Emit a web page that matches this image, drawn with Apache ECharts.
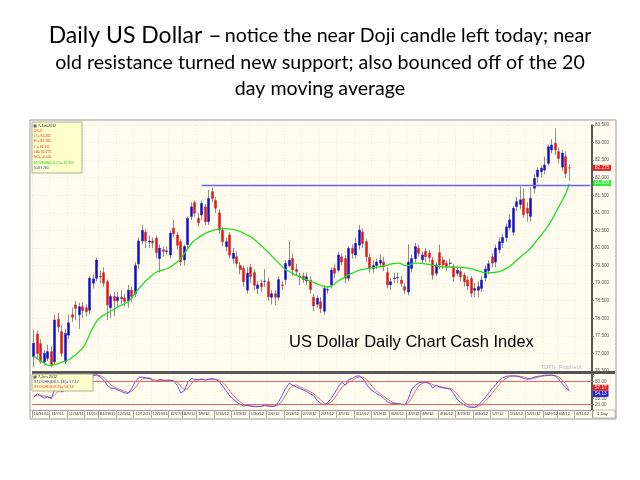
<!DOCTYPE html>
<html>
<head>
<meta charset="utf-8">
<script src="https://cdn.jsdelivr.net/npm/echarts@6/dist/echarts.min.js"></script>
<style>
  html, body { margin: 0; background: #fff; }
  #chart { width: 640px; height: 480px; }
</style>
</head>
<body>
<div id="chart"></div>
<script>
// trading days 10/31/11 .. 6/7/12 (exchange holidays skipped), plus a few empty days on the right
const holidays = ['2011-11-24', '2011-12-26', '2012-01-02', '2012-04-06', '2012-05-28'];
const dates = [];
for (let d = new Date(Date.UTC(2011, 9, 31)); d <= new Date(Date.UTC(2012, 5, 15)); d.setUTCDate(d.getUTCDate() + 1)) {
  const wd = d.getUTCDay();
  if (wd === 0 || wd === 6) continue;
  if (holidays.includes(d.toISOString().slice(0, 10))) continue;
  dates.push({ label: (d.getUTCMonth() + 1) + '/' + d.getUTCDate() + '/' + String(d.getUTCFullYear()).slice(2), wd: wd });
}
const labels = dates.map(d => d.label);

// daily OHLC
const opens = [
  76.91, 77.55, 77.28, 76.76, 76.86, 77.05, 76.76, 77.97, 77.62, 76.76,
  77.52, 78.10, 78.38, 78.10, 78.33, 78.30, 78.23, 79.00, 79.14, 79.20,
  79.30, 79.04, 78.30, 78.62, 78.50, 78.60, 78.58, 78.50, 78.80, 78.70,
  79.55, 80.20, 80.45, 80.18, 80.20, 80.28, 79.70, 79.95, 79.90, 79.80,
  80.56, 80.37, 80.18, 79.66, 80.10, 80.90, 81.29, 80.84, 80.94, 81.17,
  80.75, 81.60, 81.35, 81.00, 80.51, 80.04, 80.37, 79.70, 79.75, 79.50,
  79.42, 78.80, 79.45, 79.30, 78.85, 78.99, 79.05, 79.04, 78.60, 78.70,
  78.60, 78.95, 79.10, 79.50, 79.70, 79.39, 79.20, 79.20, 79.07, 79.08,
  78.60, 78.40, 78.47, 78.20, 78.80, 78.95, 79.42, 79.37, 79.75, 79.70,
  79.14, 79.99, 79.80, 80.08, 80.46, 80.18, 79.73, 79.42, 79.50, 79.57,
  79.60, 79.30, 78.95, 79.13, 79.15, 79.09, 78.90, 78.75, 79.42, 79.70,
  79.99, 79.66, 79.90, 79.86, 79.66, 79.28, 79.87, 79.66, 79.56, 79.56,
  79.47, 79.28, 79.33, 79.23, 79.09, 79.13, 78.80, 78.80, 78.85, 79.15,
  79.35, 79.75, 79.60, 79.95, 80.15, 80.30, 80.58, 80.45, 81.18, 81.24,
  81.40, 81.13, 80.90, 81.70, 82.03, 82.17, 82.22, 82.41, 82.79, 82.98,
  82.74, 82.30, 82.60, 82.282
];
const highs = [
  77.67, 77.65, 77.40, 77.10, 77.25, 77.20, 78.10, 78.15, 77.80, 77.70,
  78.10, 78.30, 78.50, 78.45, 78.45, 78.40, 79.20, 79.25, 79.72, 79.35,
  79.45, 79.10, 78.70, 78.75, 78.75, 78.80, 78.70, 78.95, 78.90, 79.60,
  80.30, 80.65, 80.55, 80.35, 80.30, 80.35, 80.10, 80.05, 80.05, 80.50,
  80.80, 80.45, 80.25, 80.10, 80.90, 81.30, 81.35, 81.00, 81.35, 81.25,
  81.65, 81.72, 81.45, 81.10, 80.60, 80.30, 80.45, 80.00, 79.90, 79.60,
  79.50, 79.45, 79.55, 79.40, 79.05, 79.10, 79.40, 79.15, 78.80, 78.80,
  79.20, 79.05, 79.65, 80.20, 79.85, 79.55, 79.30, 79.30, 79.30, 79.20,
  78.70, 78.65, 78.60, 78.95, 78.90, 79.45, 79.55, 79.90, 79.85, 79.80,
  80.05, 80.10, 80.30, 80.65, 80.55, 80.25, 79.85, 79.65, 79.70, 79.80,
  79.75, 79.45, 79.15, 79.30, 79.30, 79.20, 79.00, 80.10, 79.80, 80.15,
  80.10, 79.90, 80.00, 79.95, 79.75, 79.60, 80.10, 79.75, 79.65, 79.70,
  79.55, 79.50, 79.45, 79.30, 79.20, 79.20, 79.00, 79.05, 79.20, 79.50,
  79.65, 79.85, 80.10, 80.30, 80.40, 80.70, 80.95, 81.20, 81.45, 81.75,
  81.70, 81.30, 81.72, 82.10, 82.30, 82.35, 82.60, 82.95, 83.10, 83.41,
  82.85, 82.80, 82.75, 82.382
];
const lows = [
  76.62, 76.85, 76.70, 76.65, 76.78, 76.60, 76.70, 77.60, 76.90, 76.70,
  77.40, 77.90, 77.95, 77.70, 78.00, 78.05, 78.10, 78.85, 79.05, 79.00,
  78.90, 77.95, 78.00, 78.05, 78.30, 78.40, 78.35, 78.30, 78.45, 78.60,
  79.40, 80.10, 80.00, 80.00, 80.00, 79.70, 79.30, 79.75, 79.80, 79.70,
  80.30, 79.95, 79.50, 79.50, 80.00, 80.80, 80.90, 80.60, 80.80, 80.65,
  80.65, 81.30, 81.00, 80.40, 80.05, 79.90, 79.70, 79.55, 79.45, 79.25,
  78.90, 78.70, 79.00, 78.80, 78.70, 78.75, 78.90, 78.50, 78.40, 78.38,
  78.50, 78.80, 78.95, 79.45, 79.20, 79.20, 78.94, 79.00, 78.95, 78.70,
  78.20, 78.30, 78.15, 78.10, 78.70, 78.85, 79.15, 79.30, 79.50, 79.00,
  79.05, 79.70, 79.70, 79.95, 80.00, 79.60, 79.30, 79.30, 79.40, 79.45,
  79.35, 78.85, 78.80, 79.00, 79.00, 78.90, 78.70, 78.65, 79.30, 79.60,
  79.75, 79.55, 79.60, 79.60, 79.10, 79.20, 79.40, 79.40, 79.35, 79.45,
  79.05, 79.20, 79.05, 78.90, 78.80, 78.60, 78.60, 78.60, 78.75, 79.05,
  79.25, 79.45, 79.45, 79.85, 80.00, 80.20, 80.50, 80.35, 81.05, 81.10,
  80.85, 80.75, 80.75, 81.55, 81.85, 82.00, 82.10, 82.35, 82.70, 82.65,
  82.40, 82.20, 82.00, 81.911
];
const closes = [
  77.29, 77.00, 76.76, 77.00, 77.05, 76.67, 77.95, 77.76, 77.00, 77.57,
  77.87, 78.03, 78.28, 78.33, 78.22, 78.19, 79.14, 79.12, 79.66, 79.18,
  79.00, 78.38, 78.62, 78.50, 78.60, 78.55, 78.48, 78.80, 78.62, 79.50,
  80.20, 80.50, 80.20, 80.20, 80.15, 79.87, 80.00, 79.90, 79.92, 80.42,
  80.40, 80.08, 79.61, 80.04, 80.84, 81.17, 80.99, 80.72, 81.27, 80.75,
  81.41, 81.41, 81.13, 80.51, 80.18, 80.18, 79.80, 79.85, 79.56, 79.38,
  79.04, 79.28, 79.19, 78.94, 78.95, 78.90, 79.06, 78.61, 78.70, 78.60,
  79.10, 78.93, 79.56, 79.65, 79.38, 79.33, 79.18, 79.10, 79.18, 78.82,
  78.35, 78.57, 78.28, 78.85, 78.82, 79.37, 79.28, 79.80, 79.60, 79.14,
  79.99, 79.85, 80.13, 80.51, 80.13, 79.75, 79.42, 79.50, 79.60, 79.65,
  79.47, 78.95, 79.04, 79.14, 79.16, 78.99, 78.80, 79.60, 79.70, 80.04,
  79.85, 79.80, 79.75, 79.73, 79.23, 79.52, 79.52, 79.52, 79.47, 79.57,
  79.18, 79.37, 79.18, 79.04, 78.92, 78.71, 78.85, 78.90, 79.09, 79.40,
  79.55, 79.57, 80.00, 80.18, 80.30, 80.60, 80.80, 81.13, 81.32, 81.37,
  80.95, 80.99, 81.41, 81.98, 82.22, 82.27, 82.36, 82.88, 82.93, 82.79,
  82.55, 82.70, 82.12, 82.275
];

// 20 day moving average (green)
const ma20 = [
  76.92, 76.85, 76.78, 76.72, 76.67, 76.66, 76.68, 76.71, 76.75, 76.78,
  76.82, 76.89, 76.97, 77.06, 77.15, 77.32, 77.55, 77.75, 77.92, 78.02,
  78.09, 78.15, 78.20, 78.26, 78.32, 78.37, 78.42, 78.48, 78.58, 78.72,
  78.84, 78.95, 79.06, 79.15, 79.24, 79.31, 79.35, 79.38, 79.41, 79.46,
  79.53, 79.60, 79.70, 79.84, 79.98, 80.12, 80.22, 80.29, 80.36, 80.41,
  80.46, 80.49, 80.52, 80.54, 80.55, 80.55, 80.54, 80.53, 80.50, 80.47,
  80.42, 80.37, 80.32, 80.24, 80.16, 80.07, 79.97, 79.88, 79.77, 79.67,
  79.57, 79.47, 79.38, 79.33, 79.27, 79.22, 79.18, 79.13, 79.10, 79.06,
  79.02, 78.98, 78.94, 78.90, 78.89, 78.92, 78.98, 79.06, 79.12, 79.18,
  79.24, 79.28, 79.33, 79.37, 79.39, 79.41, 79.43, 79.44, 79.45, 79.47,
  79.49, 79.51, 79.54, 79.56, 79.57, 79.55, 79.50, 79.50, 79.55, 79.57,
  79.57, 79.56, 79.55, 79.53, 79.51, 79.49, 79.47, 79.46, 79.46, 79.46,
  79.46, 79.45, 79.45, 79.44, 79.43, 79.41, 79.38, 79.35, 79.32, 79.29,
  79.29, 79.30, 79.31, 79.33, 79.37, 79.42, 79.48, 79.56, 79.65, 79.74,
  79.82, 79.90, 80.00, 80.12, 80.25, 80.37, 80.50, 80.63, 80.80, 80.98,
  81.17, 81.35, 81.55, 81.82
];

// stochastics, lower panel
const stochK = [
  38, 48, 42, 36, 40, 35, 60, 66, 52, 58,
  70, 82, 88, 90, 91, 90, 97, 97, 98, 92,
  84, 70, 63, 62, 58, 54, 50, 49, 62, 80,
  90, 92, 89, 88, 82, 80, 86, 84, 82, 84,
  81, 70, 50, 56, 78, 88, 86, 84, 87, 84,
  86, 88, 85, 80, 68, 55, 42, 34, 26, 19,
  16, 17, 15, 14, 14, 15, 18, 15, 14, 16,
  27, 45, 62, 76, 70, 66, 62, 58, 54, 48,
  42, 30, 22, 18, 24, 36, 50, 66, 78, 71,
  86, 88, 94, 95, 88, 74, 62, 54, 48, 43,
  36, 27, 23, 22, 22, 20, 18, 34, 60, 70,
  77, 78, 78, 75, 63, 70, 66, 63, 62, 60,
  48, 32, 25, 18, 13, 12, 12, 18, 27, 38,
  50, 62, 72, 84, 90, 94, 95, 95, 94, 92,
  88, 86, 88, 92, 94, 95, 97, 97, 97, 95,
  86, 74, 64, 54.13
];
const stochD = [
  42, 44, 43, 42, 40, 37, 45, 54, 59, 59,
  60, 70, 80, 87, 90, 90, 93, 95, 97, 96,
  91, 82, 72, 65, 61, 58, 54, 51, 54, 64,
  77, 87, 90, 90, 86, 83, 83, 83, 84, 83,
  82, 78, 67, 59, 61, 74, 84, 86, 86, 85,
  86, 86, 86, 84, 78, 68, 55, 44, 34, 26,
  20, 17, 16, 15, 14, 14, 16, 16, 16, 15,
  19, 29, 45, 61, 69, 71, 66, 62, 58, 53,
  48, 40, 31, 23, 21, 26, 37, 51, 65, 72,
  78, 82, 89, 92, 92, 86, 75, 64, 55, 48,
  42, 34, 28, 24, 22, 21, 20, 24, 37, 54,
  69, 75, 78, 77, 72, 69, 66, 65, 63, 62,
  57, 47, 35, 25, 19, 14, 12, 14, 19, 28,
  38, 50, 61, 73, 82, 89, 93, 95, 95, 94,
  92, 89, 87, 89, 91, 94, 95, 96, 97, 96,
  92, 84, 73, 57.17
];

// old resistance / new support level (blue line)
const supportLevel = 81.78;
const supportStart = 48;

// weekly ticks: first trading day of each week
const weekStart = new Set();
dates.forEach((d, i) => { if (i === 0 || d.wd < dates[i - 1].wd) weekStart.add(i); });
const isWeek = (i) => weekStart.has(i);

const wickData = opens.map((o, i) => [o, closes[i], lows[i], highs[i]]);
const bodyData = opens.map((o, i) => [o, closes[i], Math.min(o, closes[i]), Math.max(o, closes[i])]);
const supportData = labels.map((_, i) => (i >= supportStart ? supportLevel : null));

const FONT = '"Liberation Sans", Arial, sans-serif';
const gridLine = { color: '#ebe4d0', type: [1, 2], width: 0.6 };

function valueBox(v, text, bg, fg, dy) {
  return {
    yAxis: v,
    lineStyle: { color: 'rgba(0,0,0,0)', width: 0 },
    label: {
      show: true, position: 'end', distance: 1, formatter: text,
      color: fg, backgroundColor: bg, fontSize: 4.6, fontFamily: FONT,
      padding: [1, 2, 0, 2], offset: [0, dy || 0]
    }
  };
}

function smallText(x, y, text, fill, size) {
  return {
    type: 'text', x: x, y: y, z: 101,
    style: { text: text, fill: fill, fontSize: size, fontFamily: FONT, verticalAlign: 'middle' }
  };
}

const chart = echarts.init(document.getElementById('chart'));

chart.setOption({
  animation: false,
  textStyle: { fontFamily: FONT },
  grid: [
    { left: 32, top: 125, width: 560, height: 246 },
    { left: 32, top: 374, width: 560, height: 36 }
  ],
  xAxis: [
    {
      type: 'category', gridIndex: 0, data: labels, boundaryGap: true,
      axisLine: { show: false }, axisTick: { show: false }, axisLabel: { show: false },
      splitLine: { show: true, interval: (i) => isWeek(i), lineStyle: gridLine }
    },
    {
      type: 'category', gridIndex: 1, data: labels, boundaryGap: true,
      axisLine: { show: true, lineStyle: { color: '#999', width: 1 } },
      axisTick: { show: true, interval: (i) => isWeek(i), length: 8, lineStyle: { color: '#aaa' } },
      axisLabel: { interval: (i) => isWeek(i), fontSize: 4, color: '#333', align: 'left', margin: 2 },
      splitLine: { show: true, interval: (i) => isWeek(i), lineStyle: gridLine }
    }
  ],
  yAxis: [
    {
      type: 'value', gridIndex: 0, position: 'right', min: 76.5, max: 83.5, interval: 0.5,
      axisLine: { show: true, lineStyle: { color: '#222', width: 1.5 } },
      axisTick: { show: true, length: 2, lineStyle: { color: '#777' } },
      axisLabel: { fontSize: 4.6, color: '#555', margin: 3, formatter: (v) => v.toFixed(3) },
      splitLine: { lineStyle: gridLine }
    },
    {
      type: 'value', gridIndex: 1, position: 'right', min: 5, max: 100, interval: 15,
      axisLine: { show: true, lineStyle: { color: '#222', width: 1.5 } },
      axisTick: { show: true, length: 2, lineStyle: { color: '#777' } },
      axisLabel: {
        fontSize: 4.6, color: '#555', margin: 3,
        formatter: (v) => (v >= 20 && v <= 80 ? v.toFixed(2) : '')
      },
      splitLine: { show: false }
    }
  ],
  series: [
    {
      name: 'wick', type: 'candlestick', xAxisIndex: 0, yAxisIndex: 0,
      data: wickData, barWidth: 1, silent: true, z: 2,
      itemStyle: { color: '#8e8e8e', color0: '#8e8e8e', borderColor: '#8e8e8e', borderColor0: '#8e8e8e', borderWidth: 1 }
    },
    {
      name: 'DX', type: 'candlestick', xAxisIndex: 0, yAxisIndex: 0,
      data: bodyData, barWidth: '72%', silent: true, z: 3,
      itemStyle: { color: '#1010cc', color0: '#dd1a1a', borderColor: '#1010cc', borderColor0: '#dd1a1a', borderWidth: 0.5 },
      markLine: { silent: true, symbol: 'none', data: [valueBox(82.275, '82.275', '#e82020', '#fff')] }
    },
    {
      name: 'support', type: 'line', xAxisIndex: 0, yAxisIndex: 0,
      data: supportData, connectNulls: false,
      showSymbol: false, silent: true, z: 5,
      color: '#6464ff',
      lineStyle: { color: '#6464ff', width: 1.4, opacity: 1 }
    },
    {
      name: 'MA20', type: 'line', xAxisIndex: 0, yAxisIndex: 0, data: ma20,
      smooth: 0.4, showSymbol: false, z: 4,
      lineStyle: { color: '#22dd22', width: 1.3 },
      markLine: { silent: true, symbol: 'none', data: [valueBox(81.85, '81.850', '#33ee33', '#fff')] }
    },
    {
      name: 'STOCHK', type: 'line', xAxisIndex: 1, yAxisIndex: 1, data: stochK,
      showSymbol: false, z: 4, lineStyle: { color: '#4a4ae0', width: 0.9 },
      markLine: {
        silent: true, symbol: 'none',
        lineStyle: { color: '#e06a6a', width: 1, type: 'solid' },
        label: { show: false },
        data: [
          { yAxis: 80 },
          { yAxis: 20 },
          valueBox(54.13, '54.13', '#2020e0', '#fff', 2.5)
        ]
      }
    },
    {
      name: 'STOCHD', type: 'line', xAxisIndex: 1, yAxisIndex: 1, data: stochD,
      showSymbol: false, z: 3, lineStyle: { color: '#e06060', width: 0.9 },
      markLine: { silent: true, symbol: 'none', data: [valueBox(57.17, '57.17', '#e82020', '#fff', -2.5)] }
    }
  ],
  graphic: [
    // chart frame
    { type: 'rect', z: -10, shape: { x: 30, y: 120, width: 586, height: 299 }, style: { fill: '#fffcef', stroke: '#9a9a9a', lineWidth: 1 } },
    { type: 'rect', z: 50, shape: { x: 32, y: 371, width: 583, height: 3 }, style: { fill: '#555' } },
    { type: 'rect', z: 50, shape: { x: 593, y: 410, width: 22, height: 8 }, style: { fill: 'none', stroke: '#999', lineWidth: 0.6 } },
    smallText(597, 414, '1 Day', '#333', 4.2),

    // slide heading
    {
      type: 'text', x: 320, y: 36, z: 100,
      style: {
        text: '{a|Daily US Dollar –} {b|notice the near Doji candle left today; near}',
        align: 'center', verticalAlign: 'middle',
        rich: {
          a: { fontFamily: 'Lato', fontSize: 23, fill: '#000' },
          b: { fontFamily: 'Lato', fontSize: 19.6, fill: '#000' }
        }
      }
    },
    {
      type: 'text', x: 320, y: 63, z: 100,
      style: { text: 'old resistance turned new support; also bounced off of the 20', fontFamily: 'Lato', fontSize: 19.6, fill: '#000', align: 'center', verticalAlign: 'middle' }
    },
    {
      type: 'text', x: 320, y: 89, z: 100,
      style: { text: 'day moving average', fontFamily: 'Lato', fontSize: 19.6, fill: '#000', align: 'center', verticalAlign: 'middle' }
    },

    // caption inside the chart
    {
      type: 'text', x: 289, y: 342, z: 100,
      style: { text: 'US Dollar Daily Chart Cash Index', fontFamily: FONT, fontSize: 16.5, fill: '#000', verticalAlign: 'middle' }
    },
    smallText(541, 367, 'TDTN  ProphetX', '#b4b4c6', 5.5),

    // price info box
    { type: 'rect', z: 100, shape: { x: 32, y: 122, width: 50, height: 51 }, style: { fill: '#ffffcc', stroke: '#999', lineWidth: 0.8 } },
    { type: 'rect', z: 101, shape: { x: 33.5, y: 124.5, width: 3, height: 3 }, style: { fill: '#666' } },
    smallText(38, 126, '7-Jun-2012', '#222', 3.6),
    smallText(34, 130.7, 'DX-X', '#e03030', 3.4),
    smallText(34, 136, 'O = 82.282', '#e03030', 3.4),
    smallText(34, 141.3, 'H = 82.382', '#e03030', 3.4),
    smallText(34, 146.7, 'L = 81.911', '#e03030', 3.4),
    smallText(34, 152, 'LA= 82.275', '#e03030', 3.4),
    smallText(34, 157.3, 'NC= -0.045', '#e03030', 3.4),
    smallText(34, 162.7, 'MOVEMA(DX,20)= 81.850', '#33cc33', 3.4),
    smallText(34, 168, 'V=81.780', '#3333cc', 3.4),

    // stochastics info box
    { type: 'rect', z: 100, shape: { x: 32, y: 374, width: 61, height: 17 }, style: { fill: '#ffffcc', stroke: '#999', lineWidth: 0.8 } },
    { type: 'rect', z: 101, shape: { x: 33.5, y: 375.5, width: 3, height: 3 }, style: { fill: '#666' } },
    smallText(38, 377, '7-Jun-2012', '#222', 3.8),
    smallText(34, 382, 'STOCHK(DX,5,14)= 57.17', '#3333cc', 3.8),
    smallText(34, 387, 'STOCHD(DX,3)= 54.13', '#e03030', 3.8)
  ]
});
</script>
</body>
</html>
